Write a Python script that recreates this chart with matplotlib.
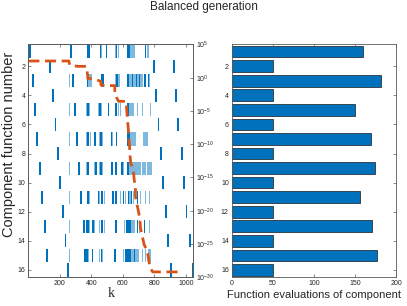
import matplotlib

matplotlib.use("Agg")
import matplotlib.pyplot as plt

plt.rcParams["font.family"] = ["Liberation Sans", "DejaVu Sans"]
plt.rcParams["mathtext.default"] = "regular"

DARK = "#0072BD"
LIGHT = "#80B9DE"
ORANGE = "#D95319"
INK = "#262626"
SPINE = "#5a5a5a"

# Left panel: spans of evaluations per component row, as (start k, width k)
DARK_SPANS = {
    1: [(4, 12), (262, 16), (374, 18), (452, 10), (490, 10), (556, 10), (628, 16), (740, 10)],
    2: [(131, 12), (792, 12), (918, 12)],
    3: [(23, 12), (277, 12), (370, 12), (460, 18), (558, 10), (628, 14), (658, 8), (682, 6),
        (704, 6), (736, 10), (758, 8)],
    4: [(150, 12), (803, 12), (929, 12)],
    5: [(36, 12), (290, 12), (372, 14), (450, 10), (504, 10), (552, 10), (624, 18)],
    6: [(167, 12), (820, 12), (946, 12)],
    7: [(51, 12), (303, 12), (374, 14), (418, 10), (458, 10), (522, 10), (556, 10), (626, 18)],
    8: [(182, 12), (834, 12), (967, 12)],
    9: [(67, 12), (316, 12), (374, 14), (426, 10), (456, 10), (525, 10), (553, 10), (589, 10),
        (624, 18)],
    10: [(198, 12), (849, 12), (984, 12)],
    11: [(82, 12), (329, 12), (372, 12), (440, 8), (462, 10), (532, 10), (553, 10), (598, 8),
         (630, 12), (652, 6), (692, 6)],
    12: [(213, 12), (866, 12), (998, 12)],
    13: [(99, 12), (345, 12), (368, 16), (404, 10), (460, 12), (553, 10), (620, 30), (688, 8),
         (734, 6)],
    14: [(230, 12), (882, 12), (1019, 12)],
    15: [(114, 12), (355, 22), (404, 8), (460, 10), (546, 10), (614, 38), (668, 10)],
    16: [(247, 12), (897, 12), (1036, 12)],
}
LIGHT_SPANS = {
    1: [(446, 5), (464, 6), (550, 5), (568, 8), (644, 34), (725, 5), (752, 14)],
    3: [(259, 7), (382, 22), (452, 6), (548, 6), (572, 8), (642, 16), (666, 60), (768, 6)],
    5: [(259, 7), (366, 5), (388, 6), (444, 5), (462, 6), (568, 6), (582, 6), (642, 32),
        (690, 6), (722, 6), (774, 6)],
    7: [(259, 7), (366, 5), (390, 6), (448, 5), (470, 6), (534, 5), (644, 40), (730, 32)],
    9: [(259, 7), (366, 5), (418, 5), (448, 5), (470, 6), (600, 6), (642, 72), (720, 28),
        (752, 30)],
    11: [(259, 7), (386, 5), (450, 5), (478, 6), (580, 6), (612, 6), (642, 8), (662, 6),
         (708, 6), (738, 6), (766, 6)],
    13: [(259, 7), (386, 5), (420, 5), (448, 5), (478, 6), (606, 8), (650, 28), (702, 8),
         (744, 6), (766, 6)],
    15: [(259, 7), (378, 10), (448, 5), (470, 6), (602, 8), (652, 16), (680, 20), (720, 8),
         (740, 8), (760, 18)],
}

# Orange error curve (k, log10 value) on the right log axis
ERR_K = [0, 258, 262, 313, 368, 377, 377, 415, 461, 461, 488, 549, 549, 573, 621, 625, 630,
         635, 637, 643, 645, 650, 667, 672, 680, 680, 690, 701, 709, 712, 726, 735, 756, 762,
         773, 790, 975]
ERR_EXP = [2.5, 2.5, 1.9, 1.7, 1.7, 0.3, -0.1, -0.2, -0.55, -1.1, -1.2, -1.2, -2.5, -3.56,
           -3.56, -5.0, -6.5, -7.8, -9.1, -10.4, -11.6, -12.8, -14.0, -15.3, -16.6, -17.9,
           -19.1, -20.3, -21.6, -22.6, -24.1, -25.1, -26.1, -27.1, -28.6, -29.2, -29.2]

# Right panel: function evaluations per component
COMPONENTS = list(range(1, 17))
EVALS = [160, 50, 182, 50, 150, 50, 169, 50, 175, 50, 156, 50, 171, 50, 177, 50]


def style_axes(ax):
    for spine in ax.spines.values():
        spine.set_color(SPINE)
        spine.set_linewidth(0.6)
    ax.tick_params(direction="in", length=2.5, width=0.5, color=SPINE, labelcolor=INK,
                   labelsize=5, pad=2, top=True)


fig = plt.figure(figsize=(4.07, 3.06), dpi=100)
fig.patch.set_facecolor("white")

ax = fig.add_axes([0.0695, 0.094, 0.405, 0.761])
for row in COMPONENTS:
    if row in LIGHT_SPANS:
        ax.broken_barh(LIGHT_SPANS[row], (row - 0.45, 0.9), facecolors=LIGHT)
    ax.broken_barh(DARK_SPANS[row], (row - 0.45, 0.9), facecolors=DARK)
ax.set_xlim(0, 1046)
ax.set_ylim(16.5, 0.5)
ax.set_yticks(range(2, 17, 2))
ax.set_xticks(range(200, 1001, 200))
style_axes(ax)
ax.tick_params(right=False)
ax.set_ylabel("Component function number", fontsize=10.5, color=INK)
ax.yaxis.set_label_coords(-0.075, 0.57)
ax.set_xlabel("k", fontsize=10, color=INK, family="Liberation Serif", labelpad=0)

ax2 = ax.twinx()
ax2.semilogy(ERR_K, [10.0 ** e for e in ERR_EXP], color=ORANGE, linewidth=2,
             linestyle=(0, (4, 2)))
ax2.set_ylim(1e-30, 1e5)
ax2.set_yticks([10.0 ** p for p in range(5, -31, -5)])
ax2.set_yticklabels([f"$10^{{{p}}}$" for p in range(5, -31, -5)])
ax2.minorticks_off()
for spine in ax2.spines.values():
    spine.set_color(SPINE)
    spine.set_linewidth(0.6)
ax2.tick_params(axis="y", direction="in", length=2.5, width=0.5, color=SPINE,
                labelcolor=INK, labelsize=5, pad=2)

bx = fig.add_axes([0.569, 0.094, 0.404, 0.761])
bx.barh(COMPONENTS, EVALS, height=0.8, color=DARK, edgecolor="#1a1a1a", linewidth=0.5)
bx.set_xlim(0, 200)
bx.set_ylim(16.5, 0.5)
bx.set_yticks(range(2, 17, 2))
bx.set_xticks(range(0, 201, 50))
style_axes(bx)
bx.tick_params(right=True)
bx.set_xlabel("Function evaluations of component", fontsize=8, color=INK, labelpad=2)

fig.text(0.5, 0.978, "Balanced generation", fontsize=8.5, color=INK, ha="center",
         va="center")

fig.savefig("out.png", dpi=100)
